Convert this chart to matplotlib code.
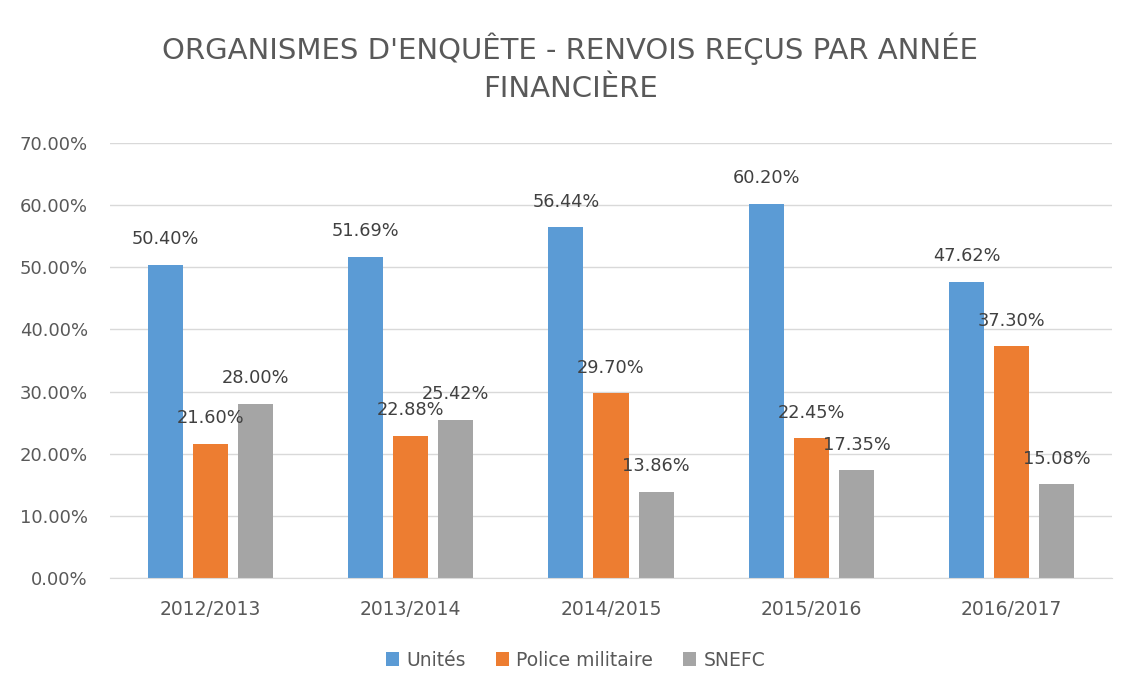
import matplotlib
matplotlib.use("Agg")
from matplotlib import pyplot as plt
import numpy as np

plt.rcParams['font.family'] = ['DejaVu Sans']

years = ['2012/2013', '2013/2014', '2014/2015', '2015/2016', '2016/2017']
unites = [50.40, 51.69, 56.44, 60.20, 47.62]
police = [21.60, 22.88, 29.70, 22.45, 37.30]
snefc = [28.00, 25.42, 13.86, 17.35, 15.08]
series_names = ['Unités', 'Police militaire', 'SNEFC']
colors = ['#5B9BD5', '#ED7D31', '#A5A5A5']

fig = plt.figure(figsize=(11.4, 6.99), dpi=100)
ax = fig.add_axes([110 / 1140, 1 - 578 / 699, 1002 / 1140, 435 / 699])

x = np.arange(len(years))
width = 0.175
step = 0.225
for i, (vals, name, col) in enumerate(zip([unites, police, snefc], series_names, colors)):
    pos = x + (i - 1) * step
    ax.bar(pos, vals, width, color=col, label=name, zorder=2)
    for px, v in zip(pos, vals):
        ax.annotate('%.2f%%' % v, (px, v), xytext=(0, 12), textcoords='offset points',
                    ha='center', va='bottom', fontsize=12.8, color='#404040', zorder=3)

ax.set_xlim(-0.5, len(years) - 0.5)
ax.set_ylim(0, 70)
ax.set_yticks(np.arange(0, 71, 10))
ax.set_yticklabels(['%.2f%%' % t for t in np.arange(0, 71, 10)])
ax.set_xticks(x)
ax.set_xticklabels(years)
ax.tick_params(axis='both', length=0, labelcolor='#595959')
ax.tick_params(axis='y', pad=16, labelsize=13)
ax.tick_params(axis='x', pad=16, labelsize=13.5)
ax.grid(axis='y', color='#D9D9D9', linewidth=1, zorder=0)
for s in ['top', 'right', 'left']:
    ax.spines[s].set_visible(False)
ax.spines['bottom'].set_color('#D9D9D9')

fig.text(0.5, 1 - 68 / 699, "ORGANISMES D'ENQUÊTE - RENVOIS REÇUS PAR ANNÉE\nFINANCIÈRE",
         ha='center', va='center', fontsize=21, color='#595959', linespacing=1.45)

fig.legend(loc='center', bbox_to_anchor=(0.505, 1 - 660 / 699), ncol=3, frameon=False,
           fontsize=13.5, handlelength=0.7, handleheight=0.7, handletextpad=0.4,
           columnspacing=1.6, labelcolor='#595959')

fig.savefig('out.png', dpi=100)
